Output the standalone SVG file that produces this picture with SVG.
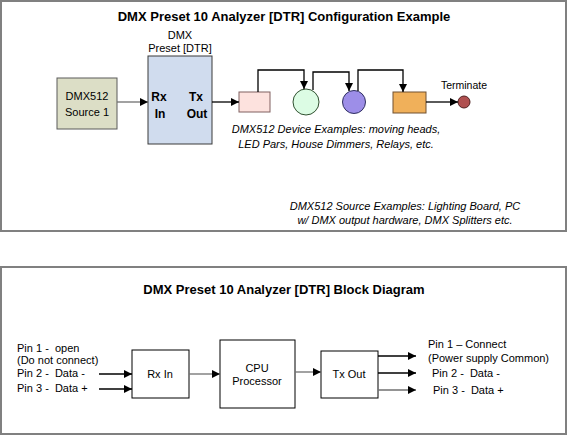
<svg xmlns="http://www.w3.org/2000/svg" width="568" height="436" viewBox="0 0 568 436">
<defs>
<style>
.frame{fill:#fff;stroke:#808080;stroke-width:2}
.t{font-family:"Liberation Sans",Arial,sans-serif;font-size:11px;fill:#000;white-space:pre}
.title{font-family:"Liberation Sans",Arial,sans-serif;font-size:13px;font-weight:bold;fill:#000;text-anchor:middle}
.b{font-weight:bold;font-size:12px}
.i{font-style:italic}
.m{text-anchor:middle}
.box{fill:#fff;stroke:#000;stroke-width:1}
.c{fill:none;stroke:#000;stroke-width:1.3}
.g{stroke:#707070}
</style>
<marker id="ah" viewBox="0 0 10 10" refX="10" refY="5" markerWidth="8" markerHeight="8" markerUnits="userSpaceOnUse" orient="auto">
<path d="M0,0 L10,5 L0,10 z" fill="#000"/>
</marker>
</defs>
<rect class="frame" x="1" y="1" width="565" height="230"/>
<rect class="frame" x="1" y="267" width="565" height="167"/>
<text class="title" x="284" y="21">DMX Preset 10 Analyzer [DTR] Configuration Example</text>
<text class="title" x="284" y="294">DMX Preset 10 Analyzer [DTR] Block Diagram</text>

<g id="source1">
<rect x="57" y="78" width="60" height="51" fill="#dcdec6" stroke="#5a5a5a" stroke-width="1"/>
<text class="t m" x="87" y="100">DMX512</text>
<text class="t m" x="87" y="116">Source 1</text>
</g>
<g id="dtr">
<text class="t m" x="180" y="39">DMX</text>
<text class="t m" x="180" y="52">Preset [DTR]</text>
<rect x="148" y="56" width="64" height="88" fill="#d0dcee" stroke="#3a3a3a" stroke-width="1"/>
<text class="t b m" x="159" y="101">Rx</text>
<text class="t b m" x="160" y="118">In</text>
<text class="t b m" x="196" y="101">Tx</text>
<text class="t b m" x="197" y="118">Out</text>
</g>
<g id="dev1"><rect x="239" y="92" width="31" height="20" fill="#fde2de" stroke="#806060" stroke-width="1"/></g>
<g id="dev2"><circle cx="306" cy="102" r="13" fill="#dcfce4" stroke="#305030" stroke-width="1"/></g>
<g id="dev3"><ellipse cx="354" cy="102" rx="11.5" ry="11.5" fill="#9d8ee8" stroke="#303060" stroke-width="1"/></g>
<g id="dev4"><rect x="393" y="92" width="33" height="21" fill="#f0b05a" stroke="#705030" stroke-width="1"/></g>
<g id="terminate">
<text class="t m" x="464" y="89" style="font-size:10.5px">Terminate</text>
<circle cx="464" cy="102" r="6" fill="#b05050" stroke="#502020" stroke-width="1"/>
</g>
<g id="notes">
<text class="t i m" x="336" y="133">DMX512 Device Examples: moving heads,</text>
<text class="t i m" x="336" y="148">LED Pars, House Dimmers, Relays, etc.</text>
<text class="t i m" x="405" y="210">DMX512 Source Examples: Lighting Board, PC</text>
<text class="t i m" x="405" y="224">w/ DMX output hardware, DMX Splitters etc.</text>
</g>

<g id="inlabels">
<text class="t" x="17" y="352" xml:space="preserve">Pin 1 -  open</text>
<text class="t" x="17" y="364">(Do not connect)</text>
<text class="t" x="17" y="377" xml:space="preserve">Pin 2 -  Data -</text>
<text class="t" x="17" y="392" xml:space="preserve">Pin 3 -  Data +</text>
</g>
<g id="rxin">
<rect class="box" x="132" y="350" width="57" height="48"/>
<text class="t m" x="160" y="378">Rx In</text>
</g>
<g id="cpu">
<rect class="box" x="220" y="340" width="75" height="68"/>
<text class="t m" x="257" y="372">CPU</text>
<text class="t m" x="257" y="385">Processor</text>
</g>
<g id="txout">
<rect class="box" x="321" y="351" width="57" height="47"/>
<text class="t m" x="349" y="378">Tx Out</text>
</g>
<g id="outlabels">
<text class="t" x="428" y="348">Pin 1 – Connect</text>
<text class="t" x="428" y="362">(Power supply Common)</text>
<text class="t" x="432" y="377" xml:space="preserve">Pin 2 -  Data -</text>
<text class="t" x="433" y="394" xml:space="preserve">Pin 3 -  Data +</text>
</g>

<g id="connectors">
<line class="c g" x1="117" y1="102" x2="148" y2="102" marker-end="url(#ah)"/>
<line class="c" x1="212" y1="102" x2="239" y2="102" marker-end="url(#ah)"/>
<path class="c" d="M258,92 V70 H304 V89" marker-end="url(#ah)"/>
<path class="c" d="M313,90 V72 H349 V91" marker-end="url(#ah)"/>
<path class="c" d="M358,91 V70 H403 V92" marker-end="url(#ah)"/>
<line class="c" x1="426" y1="102" x2="458" y2="102" marker-end="url(#ah)"/>
<line class="c" x1="99" y1="374" x2="132" y2="374" marker-end="url(#ah)"/>
<line class="c" x1="99" y1="389" x2="132" y2="389" marker-end="url(#ah)"/>
<line class="c g" x1="189" y1="374" x2="220" y2="374" marker-end="url(#ah)"/>
<line class="c g" x1="295" y1="372" x2="321" y2="372" marker-end="url(#ah)"/>
<line class="c" x1="378" y1="356" x2="416" y2="356" marker-end="url(#ah)"/>
<line class="c" x1="378" y1="373" x2="416" y2="373" marker-end="url(#ah)"/>
<line class="c g" x1="378" y1="390" x2="416" y2="390" marker-end="url(#ah)"/>
</g>
</svg>
